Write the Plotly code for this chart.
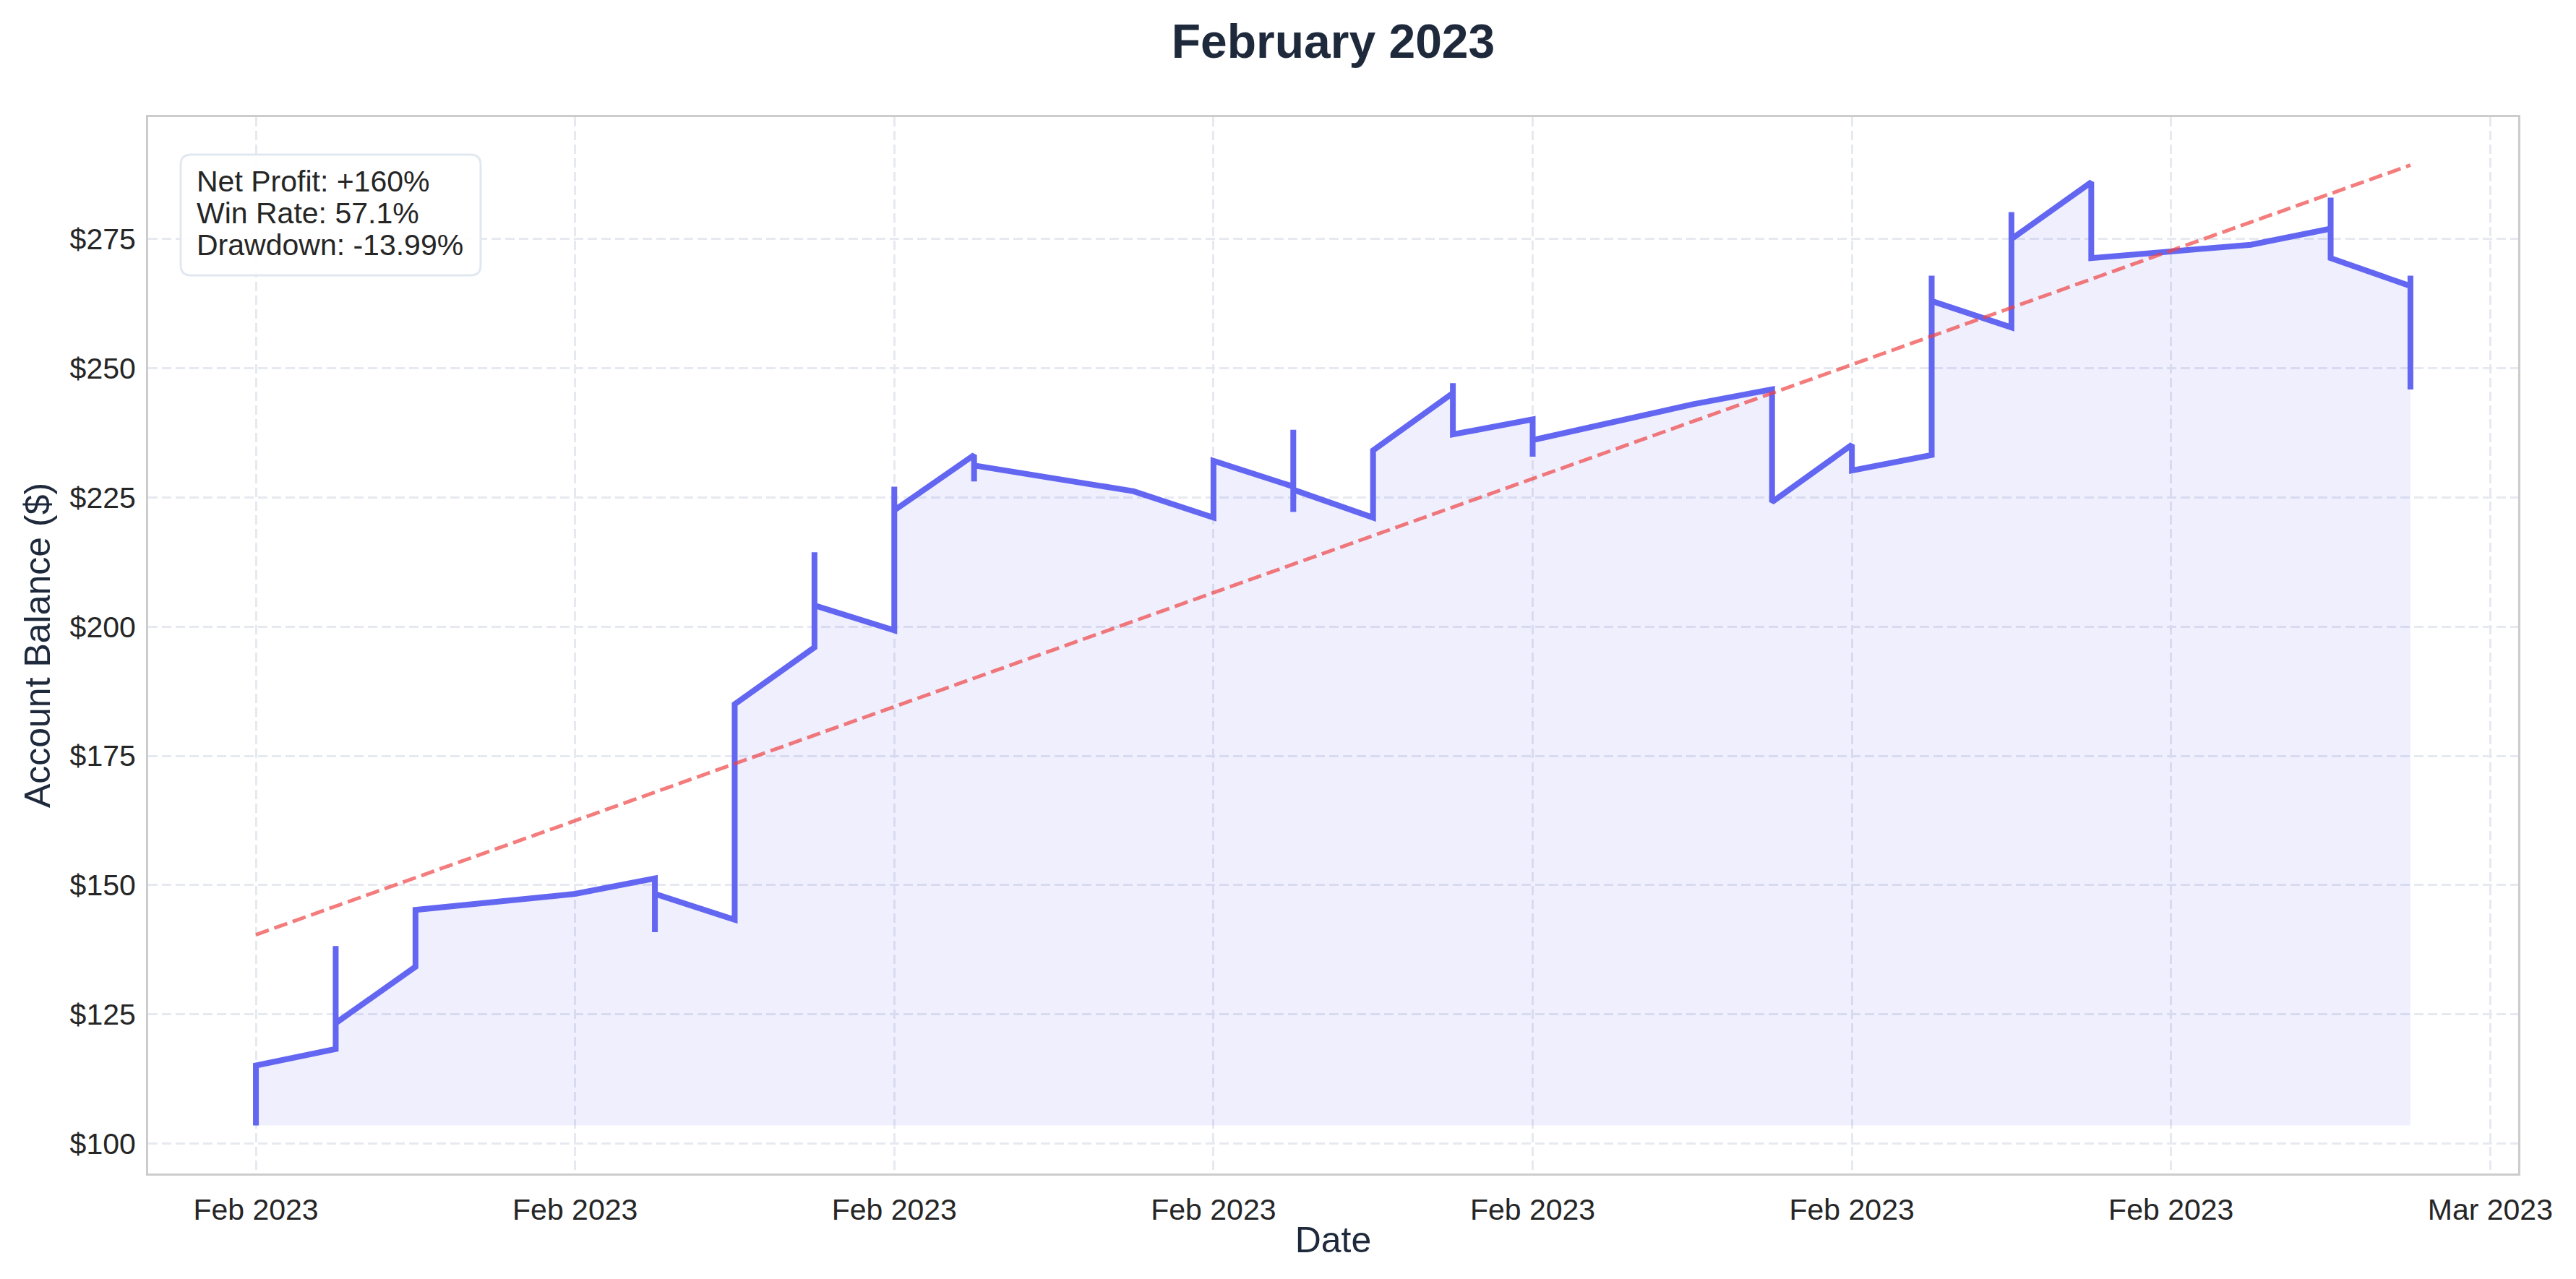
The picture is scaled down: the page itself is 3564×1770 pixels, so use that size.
import plotly.graph_objects as go

# ---------------- data ----------------
trade_dates = [
    "2023-02-01", "2023-02-01",
    "2023-02-02", "2023-02-02", "2023-02-02",
    "2023-02-03", "2023-02-03",
    "2023-02-05",
    "2023-02-06", "2023-02-06", "2023-02-06",
    "2023-02-07", "2023-02-07", "2023-02-07", "2023-02-07", "2023-02-07",
    "2023-02-08", "2023-02-08", "2023-02-08",
    "2023-02-09", "2023-02-09", "2023-02-09",
    "2023-02-10", "2023-02-10", "2023-02-10",
    "2023-02-12",
    "2023-02-13", "2023-02-13",
    "2023-02-14", "2023-02-14", "2023-02-14", "2023-02-14",
    "2023-02-15", "2023-02-15",
    "2023-02-16", "2023-02-16", "2023-02-16",
    "2023-02-17", "2023-02-17", "2023-02-17",
    "2023-02-19",
    "2023-02-20", "2023-02-20", "2023-02-20",
    "2023-02-21", "2023-02-21",
    "2023-02-22", "2023-02-22", "2023-02-22",
    "2023-02-23", "2023-02-23", "2023-02-23",
    "2023-02-24", "2023-02-24",
    "2023-02-25",
    "2023-02-26",
    "2023-02-27", "2023-02-27", "2023-02-27",
    "2023-02-28", "2023-02-28", "2023-02-28",
]
balances = [
    103.5, 115.1,
    118.3, 138.2, 123.3,
    134.2, 145.2,
    148.3,
    151.3, 140.9, 148.3,
    143.3, 162.3, 157.0, 179.1, 185.0,
    196.0, 214.4, 204.1,
    199.3, 227.1, 222.5,
    233.2, 228.1, 231.2,
    226.2,
    221.1, 232.1,
    227.1, 238.1, 222.2, 226.5,
    221.1, 234.1,
    245.2, 247.1, 237.2,
    240.1, 232.9, 236.1,
    243.0,
    245.9, 232.7, 224.1,
    235.2, 230.2,
    233.2, 267.9, 263.0,
    257.9, 280.2, 275.0,
    286.0, 271.3,
    272.6,
    273.9,
    277.0, 283.0, 271.3,
    265.9, 267.9, 245.9,
]
trend_dates = ["2023-02-01", "2023-02-28"]
trend_values = [140.4, 289.3]

x_tick_vals = ["2023-02-01", "2023-02-05", "2023-02-09", "2023-02-13",
               "2023-02-17", "2023-02-21", "2023-02-25", "2023-03-01"]
x_tick_text = ["Feb 2023", "Feb 2023", "Feb 2023", "Feb 2023",
               "Feb 2023", "Feb 2023", "Feb 2023", "Mar 2023"]
y_tick_vals = [100, 125, 150, 175, 200, 225, 250, 275]
y_tick_text = ["$100", "$125", "$150", "$175", "$200", "$225", "$250", "$275"]

stats_lines = ["Net Profit: +160%", "Win Rate: 57.1%", "Drawdown: -13.99%"]
title_text = "February 2023"

# ---------------- styling ----------------
OFF = 8  # default page (body) margin of the html page
W, H = 3564 - OFF, 1770 - OFF
ML, MR, MT, MB = 205 - OFF, 80, 162 - OFF, 146
PW, PH = W - ML - MR, H - MT - MB
FONT = "Liberation Sans, Arial, sans-serif"
NAVY = "#1e293b"
TICK = "#262626"
LINE = "#6366f1"
GRID = "#e6e9f0"

base_val = min(balances)

fig = go.Figure()
fig.add_trace(go.Scatter(
    x=[trade_dates[0], trade_dates[-1]], y=[base_val, base_val],
    mode="lines", line=dict(width=0, color="rgba(0,0,0,0)"),
    hoverinfo="skip", showlegend=False))
fig.add_trace(go.Scatter(
    x=trade_dates, y=balances, mode="lines",
    line=dict(color=LINE, width=8),
    fill="tonexty", fillcolor="rgba(99,102,241,0.1)",
    showlegend=False, name="Balance"))
fig.add_trace(go.Scatter(
    x=trend_dates, y=trend_values, mode="lines",
    line=dict(color="rgba(239,68,68,0.7)", width=5, dash="19px,8px"),
    showlegend=False, name="Trend"))


# pixel positions below are page pixels of the 3564x1770 window
def px2paper_x(px):
    return (px - OFF - ML) / PW


def px2paper_y(py):
    return (OFF + H - MB - py) / PH


bx0, bx1, by0, by1 = 250, 665, 214, 381
r = 14
x0, x1 = px2paper_x(bx0), px2paper_x(bx1)
yt, yb = px2paper_y(by0), px2paper_y(by1)
rx, ry = r / PW, r / PH
path = (f"M {x0+rx},{yt} L {x1-rx},{yt} Q {x1},{yt} {x1},{yt-ry} "
        f"L {x1},{yb+ry} Q {x1},{yb} {x1-rx},{yb} "
        f"L {x0+rx},{yb} Q {x0},{yb} {x0},{yb+ry} "
        f"L {x0},{yt-ry} Q {x0},{yt} {x0+rx},{yt} Z")
fig.add_shape(type="path", path=path, xref="paper", yref="paper",
              line=dict(color="#e2e8f0", width=3), fillcolor="rgba(255,255,255,0.9)",
              layer="above")

line_centers = [251, 295, 339]
for txt, cy in zip(stats_lines, line_centers):
    fig.add_annotation(text=txt, xref="paper", yref="paper",
                       x=px2paper_x(270), y=px2paper_y(cy),
                       xanchor="left", yanchor="middle", showarrow=False,
                       font=dict(family=FONT, size=41, color=TICK))

fig.update_layout(
    width=W, height=H,
    margin=dict(l=ML, r=MR, t=MT, b=MB),
    paper_bgcolor="white", plot_bgcolor="white",
    title=dict(text=f"<b>{title_text}</b>", x=(ML + PW / 2) / W, xanchor="center",
               y=1 - (57 - OFF) / H, yanchor="middle", yref="container",
               font=dict(family=FONT, size=66, color=NAVY)),
    font=dict(family=FONT),
    xaxis=dict(
        type="date",
        range=["2023-01-30 15:36", "2023-03-01 08:24"],
        tickvals=x_tick_vals, ticktext=x_tick_text,
        tickfont=dict(family=FONT, size=41, color=TICK),
        showgrid=True, gridcolor=GRID, gridwidth=3, griddash="13px,6px",
        showline=True, linecolor="#cccccc", linewidth=3, mirror=True,
        ticks="", ticklabelstandoff=12, zeroline=False,
        title=dict(text="Date", font=dict(family=FONT, size=50, color=NAVY), standoff=2),
    ),
    yaxis=dict(
        range=[94.2, 298.6],
        tickvals=y_tick_vals, ticktext=y_tick_text,
        tickfont=dict(family=FONT, size=41, color=TICK),
        showgrid=True, gridcolor=GRID, gridwidth=3, griddash="13px,6px",
        showline=True, linecolor="#cccccc", linewidth=3, mirror=True,
        ticks="", ticklabelstandoff=6, zeroline=False,
        title=dict(text="Account Balance ($)", font=dict(family=FONT, size=50, color=NAVY), standoff=12),
    ),
)

fig.write_html("out.html")
